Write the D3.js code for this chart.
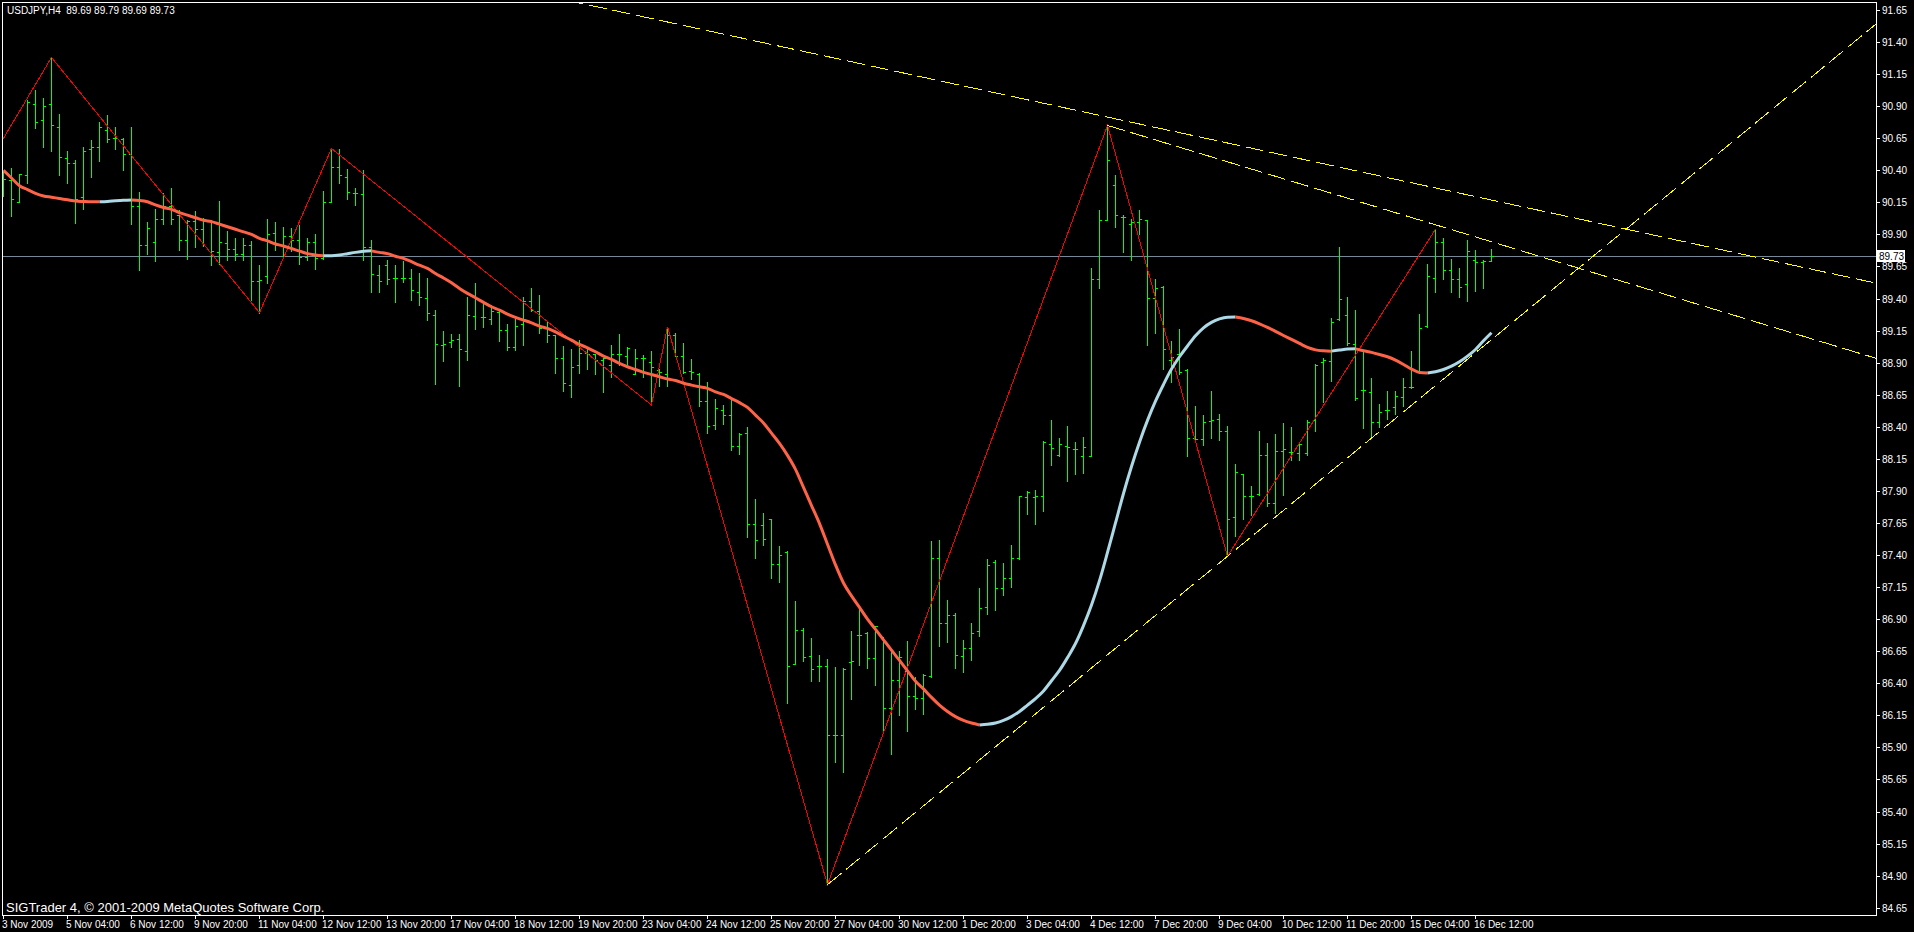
<!DOCTYPE html>
<html><head><meta charset="utf-8">
<script src="https://cdn.jsdelivr.net/npm/d3@7"></script>
<style>html,body{margin:0;padding:0;background:#000;overflow:hidden}svg{display:block}</style>
</head><body>
<svg id="c" width="1914" height="932"></svg>
<script>
// ---------------- DATA ----------------
const chartTitle = "USDJPY,H4";
const lastQuote = [89.69, 89.79, 89.69, 89.73]; // O H L C of current bar
const bidPrice = 89.73;
const copyright = "SIGTrader 4, \u00A9 2001-2009 MetaQuotes Software Corp.";

const timeLabels = ["3 Nov 2009","5 Nov 04:00","6 Nov 12:00","9 Nov 20:00","11 Nov 04:00","12 Nov 12:00",
  "13 Nov 20:00","17 Nov 04:00","18 Nov 12:00","19 Nov 20:00","23 Nov 04:00","24 Nov 12:00","25 Nov 20:00",
  "27 Nov 04:00","30 Nov 12:00","1 Dec 20:00","3 Dec 04:00","4 Dec 12:00","7 Dec 20:00","9 Dec 04:00",
  "10 Dec 12:00","11 Dec 20:00","15 Dec 04:00","16 Dec 12:00"];
const timeLabelBars = [0,8,16,24,32,40,48,56,64,72,80,88,96,104,112,120,128,136,144,152,160,168,176,184];

const priceLabels = ["84.65","84.90","85.15","85.40","85.65","85.90","86.15","86.40","86.65","86.90",
  "87.15","87.40","87.65","87.90","88.15","88.40","88.65","88.90","89.15","89.40","89.65","89.90",
  "90.15","90.40","90.65","90.90","91.15","91.40","91.65"];

const barOpen = [90.36,90.32,90.15,90.36,90.91,90.79,90.91,90.73,90.49,90.45,90.19,90.56,90.58,90.71,90.65,90.64,90.52,90.12,89.81,89.84,
90.02,90.12,90.05,89.85,90.00,89.94,90.00,89.76,89.83,89.78,89.74,89.81,89.53,89.57,89.91,89.81,89.88,89.85,89.72,89.84,
89.71,90.15,90.42,90.34,90.22,90.21,89.80,89.58,89.66,89.56,89.56,89.56,89.45,89.40,89.27,89.03,89.06,89.08,88.99,89.26,
89.25,89.24,89.29,89.15,89.02,89.20,89.38,89.30,89.17,89.11,88.93,88.72,88.88,88.97,88.96,88.92,88.88,88.96,88.95,88.81,
88.93,88.90,88.84,88.81,89.11,88.95,88.83,88.81,88.60,88.41,88.53,88.49,88.25,88.35,87.64,87.63,87.68,87.33,87.42,86.55,
86.81,86.61,86.53,86.53,85.99,85.99,86.56,86.77,86.79,86.59,86.75,86.20,86.42,86.49,86.30,86.28,86.45,87.37,86.87,86.93,
86.61,86.67,86.80,86.99,87.34,87.14,87.22,87.37,87.85,87.85,87.86,88.26,88.18,88.25,88.22,88.17,88.17,89.55,90.01,90.28,
90.03,89.98,89.99,90.01,89.40,89.49,88.92,88.96,88.84,88.31,88.30,88.44,88.46,88.36,87.69,88.03,87.86,87.87,88.18,87.80,
88.21,88.20,88.19,88.19,88.45,88.90,88.91,89.24,89.27,89.04,88.68,88.67,88.43,88.53,88.55,88.63,88.71,88.82,89.18,89.56,
89.84,89.62,89.55,89.51,89.70,89.68,89.69];
const barHigh = [90.39,90.42,90.37,90.95,91.03,90.96,91.28,90.84,90.55,90.48,90.58,90.64,90.78,90.83,90.74,90.65,90.74,90.23,90.00,90.10,
90.22,90.26,90.09,90.01,90.08,90.03,90.01,90.16,89.93,89.87,89.87,89.85,89.66,90.02,90.00,89.96,89.95,89.97,89.87,89.90,
90.24,90.57,90.57,90.41,90.26,90.40,89.86,89.66,89.70,89.66,89.69,89.63,89.60,89.56,89.31,89.15,89.12,89.12,89.41,89.52,
89.36,89.35,89.32,89.20,89.24,89.41,89.48,89.43,89.22,89.11,89.03,89.01,89.08,89.01,88.97,88.94,89.04,89.12,89.02,89.01,
88.96,88.99,88.85,89.18,89.13,89.05,88.93,88.82,88.75,88.62,88.57,88.62,88.35,88.40,87.84,87.73,87.68,87.47,87.43,87.04,
86.83,86.75,86.62,86.59,86.53,86.52,86.81,86.99,86.80,86.85,86.76,86.64,86.65,86.73,86.45,86.47,87.51,87.52,87.05,86.95,
86.74,86.87,87.14,87.37,87.36,87.34,87.48,87.86,87.90,87.91,88.29,88.45,88.31,88.41,88.28,88.32,89.64,90.09,90.75,90.36,
90.05,90.02,90.09,90.01,89.55,89.50,89.07,89.16,88.85,88.56,88.49,88.68,88.50,88.41,88.11,88.03,87.94,88.37,88.27,88.34,
88.43,88.40,88.28,88.45,88.89,88.94,89.25,89.80,89.41,89.31,88.99,88.78,88.58,88.68,88.68,88.78,88.99,89.28,89.67,89.94,
89.87,89.71,89.64,89.86,89.78,89.70,89.79];
const barLow = [90.20,90.04,90.15,90.30,90.73,90.58,90.55,90.36,90.30,89.99,90.10,90.35,90.47,90.62,90.57,90.40,89.98,89.62,89.75,89.69,
89.98,89.98,89.78,89.71,89.80,89.81,89.66,89.67,89.70,89.70,89.70,89.39,89.29,89.52,89.78,89.72,89.77,89.67,89.70,89.63,
89.71,90.15,90.30,90.18,90.13,89.70,89.45,89.45,89.51,89.37,89.53,89.39,89.35,89.23,88.73,88.91,89.02,88.72,88.92,89.16,
89.18,89.20,89.07,89.00,89.00,89.04,89.30,89.13,89.06,88.82,88.68,88.63,88.82,88.85,88.81,88.67,88.79,88.88,88.89,88.81,
88.79,88.57,88.72,88.72,88.95,88.82,88.77,88.56,88.35,88.38,88.42,88.22,88.19,87.54,87.38,87.48,87.22,87.19,86.25,86.55,
86.57,86.42,86.42,84.83,85.79,85.71,86.28,86.54,86.52,86.39,86.03,85.85,86.15,86.03,86.20,86.16,86.45,86.69,86.72,86.52,
86.49,86.58,86.77,86.94,86.97,87.09,87.15,87.37,87.72,87.64,87.74,88.10,88.17,87.98,88.03,88.04,88.17,89.48,90.01,89.96,
89.76,89.70,89.90,89.04,89.13,88.85,88.75,88.81,88.17,88.28,88.26,88.31,88.30,87.39,87.55,87.68,87.71,87.87,87.78,87.73,
87.87,88.14,88.14,88.18,88.37,88.59,88.76,89.23,89.04,88.61,88.39,88.31,88.40,88.46,88.50,88.56,88.70,88.82,89.18,89.45,
89.55,89.45,89.41,89.38,89.46,89.48,89.69];
const barClose = [90.33,90.17,90.37,90.93,90.77,90.90,90.75,90.50,90.45,90.17,90.55,90.58,90.73,90.64,90.65,90.52,90.12,89.81,89.95,90.02,
90.12,90.02,89.85,90.00,89.94,90.00,89.77,89.84,89.78,89.74,89.81,89.53,89.54,89.90,89.81,89.88,89.85,89.72,89.84,89.71,
90.15,90.42,90.36,90.23,90.22,89.80,89.59,89.53,89.55,89.56,89.56,89.46,89.41,89.28,89.04,89.04,89.07,89.00,89.27,89.40,
89.25,89.30,89.15,89.02,89.18,89.38,89.31,89.17,89.11,88.93,88.74,88.86,88.97,88.96,88.92,88.93,88.96,88.96,89.01,88.93,
88.93,88.86,88.82,89.11,88.95,88.82,88.82,88.60,88.40,88.54,88.49,88.25,88.34,87.64,87.51,87.52,87.33,87.40,86.53,86.81,
86.60,86.51,86.53,85.99,85.99,86.51,86.57,86.77,86.59,86.84,86.20,86.42,86.60,86.30,86.28,86.46,87.37,86.87,86.93,86.62,
86.67,86.79,86.98,87.32,87.14,87.22,87.37,87.86,87.89,87.86,88.28,88.23,88.26,88.24,88.22,88.24,89.55,90.01,90.48,90.05,
90.03,89.99,90.02,89.40,89.48,89.00,88.94,88.82,88.31,88.30,88.43,88.45,88.36,87.68,88.04,87.86,87.86,88.18,87.80,88.21,
88.22,88.20,88.26,88.43,88.88,88.92,89.21,89.39,89.05,88.62,88.68,88.43,88.51,88.53,88.64,88.71,88.71,89.17,89.57,89.84,
89.62,89.55,89.49,89.77,89.68,89.69,89.73];

// smoothed moving average (one value per bar)
const maValues = [90.40,90.34,90.28,90.25,90.22,90.20,90.19,90.18,90.17,90.16,90.157,90.155,90.155,90.157,90.162,90.166,90.168,90.165,90.155,90.13,
90.11,90.095,90.07,90.05,90.03,90.01,90.00,89.98,89.96,89.94,89.92,89.90,89.87,89.85,89.825,89.81,89.79,89.77,89.75,89.74,
89.733,89.734,89.74,89.75,89.76,89.768,89.772,89.76,89.75,89.73,89.713,89.687,89.66,89.635,89.596,89.56,89.523,89.479,89.44,89.406,
89.37,89.336,89.31,89.279,89.253,89.232,89.21,89.185,89.167,89.14,89.107,89.076,89.042,89.016,88.985,88.951,88.925,88.894,88.868,88.847,
88.824,88.808,88.79,88.773,88.761,88.74,88.725,88.712,88.70,88.672,88.652,88.62,88.588,88.551,88.491,88.43,88.35,88.27,88.177,88.068,
87.927,87.786,87.645,87.484,87.323,87.182,87.081,86.992,86.90,86.82,86.739,86.658,86.578,86.497,86.416,86.356,86.29,86.23,86.18,86.14,
86.11,86.09,86.075,86.08,86.09,86.11,86.14,86.18,86.23,86.28,86.34,86.42,86.50,86.60,86.71,86.85,87.01,87.20,87.42,87.65,
87.88,88.09,88.28,88.45,88.60,88.73,88.85,88.946,89.03,89.11,89.172,89.214,89.242,89.255,89.256,89.245,89.227,89.203,89.175,89.144,
89.112,89.081,89.05,89.019,89.00,88.993,88.99,88.998,89.006,89.008,88.993,88.98,88.964,88.946,88.92,88.886,88.85,88.824,88.82,88.829,
88.847,88.873,88.907,88.951,89.003,89.071,89.133];

// zigzag pivots
const zigzagBars   = [-4, 6, 32, 41, 81, 83, 103, 138, 153, 179];
const zigzagPrices = [90.23, 91.28, 89.29, 90.57, 88.57, 89.18, 84.83, 90.75, 87.39, 89.94];

// trend lines: two anchor points (bar, price); "both" = extended both ways, "right" = ray
const trendBar1   = [138, 138, 103];
const trendPrice1 = [90.815, 90.75, 84.83];
const trendBar2   = [186, 179, 153];
const trendPrice2 = [90.168, 89.975, 87.39];
const trendExtend = ["both", "right", "right"];

// ---------------- DRAW ----------------
const W = 1914, H = 932;
const plotL = 2.5, plotT = 2.5, plotR = 1876.5, plotB = 915.5;
const svg = d3.select("#c");
svg.append("rect").attr("width", W).attr("height", H).attr("fill", "#000");

const x = d3.scaleLinear().domain([0, 186]).range([3.5, 3.5 + 8 * 186]);
const y = d3.scaleLinear().domain([84.65, 91.65]).range([907.7, 10]);

svg.append("clipPath").attr("id", "clip").append("rect")
  .attr("x", plotL + 0.5).attr("y", plotT + 0.5).attr("width", plotR - plotL - 1).attr("height", plotB - plotT - 1);
const g = svg.append("g").attr("clip-path", "url(#clip)");

const font = "'Liberation Sans', Arial, sans-serif";
const px = v => Math.round(v - 0.5) + 0.5;

// bid line
g.append("line").attr("x1", plotL).attr("x2", plotR)
  .attr("y1", px(y(bidPrice))).attr("y2", px(y(bidPrice)))
  .attr("stroke", "#778899").attr("stroke-width", 1).attr("shape-rendering", "crispEdges");

// OHLC bars
const bars = d3.range(barOpen.length);
const bg = g.append("g").attr("stroke", "#00ff00").attr("stroke-width", 1).attr("shape-rendering", "crispEdges");
bars.forEach(i => {
  const cx = x(i);
  bg.append("line").attr("x1", cx).attr("x2", cx).attr("y1", Math.round(y(barHigh[i]))).attr("y2", Math.round(y(barLow[i])) + 1);
  bg.append("line").attr("x1", cx - 2.5).attr("x2", cx).attr("y1", px(y(barOpen[i]))).attr("y2", px(y(barOpen[i])));
  bg.append("line").attr("x1", cx).attr("x2", cx + 2.5).attr("y1", px(y(barClose[i]))).attr("y2", px(y(barClose[i])));
});

// zigzag
const zz = zigzagBars.map((b, k) => [b, zigzagPrices[k]]);
g.append("path").attr("d", d3.line().x(d => x(d[0])).y(d => y(d[1]))(zz))
  .attr("fill", "none").attr("stroke", "#ff0000").attr("stroke-width", 1)
  .attr("shape-rendering", "crispEdges");

// moving average, coloured by slope
const maUp = "#add8e6", maDown = "#ff6347";
const runs = [];
for (let i = 1; i < maValues.length; i++) {
  const c = maValues[i] > maValues[i - 1] ? maUp : maDown;
  const last = runs[runs.length - 1];
  if (last && last.c === c) last.pts.push([i, maValues[i]]);
  else runs.push({c, pts: [[i - 1, maValues[i - 1]], [i, maValues[i]]]});
}
const maLine = d3.line().x(d => x(d[0])).y(d => y(d[1])).curve(d3.curveMonotoneX);
runs.forEach(r => {
  g.append("path").attr("d", maLine(r.pts)).attr("fill", "none")
    .attr("stroke", r.c).attr("stroke-width", 3).attr("stroke-linecap", "butt");
});

// trend lines
trendBar1.forEach((b1, k) => {
  const x1 = x(b1), y1 = y(trendPrice1[k]), x2 = x(trendBar2[k]), y2 = y(trendPrice2[k]);
  const m = (y2 - y1) / (x2 - x1);
  const xs = trendExtend[k] === "both" ? plotL : x1;
  const xe = plotR;
  g.append("line").attr("x1", xs).attr("y1", y1 + m * (xs - x1)).attr("x2", xe).attr("y2", y1 + m * (xe - x1))
    .attr("stroke", "#ffff00").attr("stroke-width", 1).attr("stroke-dasharray", "18,6")
    .attr("shape-rendering", "crispEdges");
});

// frame
svg.append("rect").attr("x", plotL).attr("y", plotT).attr("width", plotR - plotL).attr("height", plotB - plotT)
  .attr("fill", "none").attr("stroke", "#fff").attr("stroke-width", 1).attr("shape-rendering", "crispEdges");

// price axis
const ya = svg.append("g");
priceLabels.forEach(s => {
  const yy = Math.round(y(+s));
  ya.append("line").attr("x1", plotR).attr("x2", plotR + 3.5).attr("y1", yy + 0.5).attr("y2", yy + 0.5)
    .attr("stroke", "#fff").attr("shape-rendering", "crispEdges");
  ya.append("text").attr("x", 1882).attr("y", yy + 4).attr("fill", "#fff")
    .attr("font-family", font).attr("font-size", "10px").text(s);
});
// current price label
const by = Math.round(y(bidPrice));
svg.append("rect").attr("x", 1877).attr("y", by - 6).attr("width", 28).attr("height", 12).attr("fill", "#fff");
svg.append("text").attr("x", 1879).attr("y", by + 4).attr("fill", "#000")
  .attr("font-family", font).attr("font-size", "10px").text(bidPrice.toFixed(2));

// time axis
const xa = svg.append("g");
timeLabels.forEach((s, k) => {
  const xx = x(timeLabelBars[k]);
  xa.append("line").attr("x1", xx).attr("x2", xx).attr("y1", plotB).attr("y2", plotB + 3.5)
    .attr("stroke", "#fff").attr("shape-rendering", "crispEdges");
  xa.append("text").attr("x", xx - 1.5).attr("y", 928).attr("fill", "#fff")
    .attr("font-family", font).attr("font-size", "10px").text(s);
});

// title & copyright
svg.append("text").attr("x", 7).attr("y", 14).attr("fill", "#fff").attr("font-family", font)
  .attr("font-size", "10px").style("white-space", "pre")
  .text(chartTitle + "  " + lastQuote.map(v => v.toFixed(2)).join(" "));
svg.append("text").attr("x", 6).attr("y", 912).attr("fill", "#fff").attr("font-family", font)
  .attr("font-size", "13px").text(copyright);
</script>
</body></html>
